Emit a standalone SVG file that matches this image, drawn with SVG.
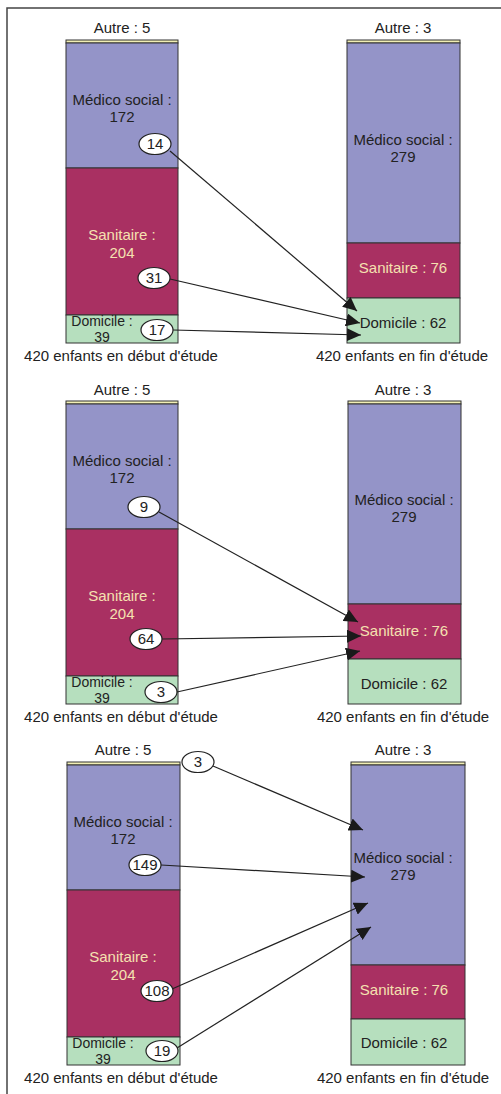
<svg xmlns="http://www.w3.org/2000/svg" width="501" height="1094" viewBox="0 0 501 1094">
<style>
text{font-family:"Liberation Sans",Arial,sans-serif;font-size:15px;fill:#222;text-anchor:middle}
.au{fill:#f1eeb4;stroke:#333;stroke-width:1}
.me{fill:#9494c8;stroke:#333;stroke-width:1}
.sa{fill:#a93062;stroke:#333;stroke-width:1}
.do{fill:#b6dfbe;stroke:#333;stroke-width:1}
.st{fill:#f5e1b0}
.dl{font-size:14px}
.el{fill:#fff;stroke:#222;stroke-width:1.2}
.ln{stroke:#222;stroke-width:1.2;fill:none;marker-end:url(#ah)}
.fr{stroke:#444;stroke-width:1.5;fill:none}
</style>
<defs>
<marker id="ah" markerUnits="userSpaceOnUse" markerWidth="15" markerHeight="13" refX="14" refY="6.5" orient="auto">
<path d="M0,0 L14,6.5 L0,13 z" fill="#1a1a1a"/>
</marker>
</defs>
<rect width="501" height="1094" fill="#fff"/>
<path class="fr" d="M7,1094 V8 H501"/>

<!-- Panel 1 -->
<g id="p1-left">
<text x="122" y="33">Autre : 5</text>
<rect class="au" x="66" y="40" width="112" height="3"/>
<rect class="me" x="66" y="43" width="112" height="125"/>
<rect class="sa" x="66" y="168" width="112" height="147"/>
<rect class="do" x="66" y="315" width="112" height="28"/>
<text x="122" y="105">Médico social :</text>
<text x="122" y="122">172</text>
<text class="st" x="122" y="240">Sanitaire :</text>
<text class="st" x="122" y="258">204</text>
<text class="dl" x="102" y="326">Domicile :</text>
<text class="dl" x="102" y="342">39</text>
<text x="121" y="361">420 enfants en début d'étude</text>
</g>
<g id="p1-right">
<text x="403" y="33">Autre : 3</text>
<rect class="au" x="347" y="40" width="113" height="3"/>
<rect class="me" x="347" y="43" width="113" height="200"/>
<rect class="sa" x="347" y="243" width="113" height="55"/>
<rect class="do" x="347" y="298" width="113" height="45"/>
<text x="403" y="145">Médico social :</text>
<text x="403" y="162">279</text>
<text class="st" x="403" y="273">Sanitaire : 76</text>
<text x="403" y="328">Domicile : 62</text>
<text x="402" y="361">420 enfants en fin d'étude</text>
</g>
<g id="p1-connectors">
<path class="ln" d="M170,151 L357,311"/>
<path class="ln" d="M170,279 L360,323"/>
<path class="ln" d="M173,330 L361,335"/>
</g>
<g id="p1-e14"><ellipse class="el" cx="155" cy="144" rx="16" ry="10.5"/><text x="155" y="149">14</text></g>
<g id="p1-e31"><ellipse class="el" cx="154" cy="278" rx="16" ry="10.5"/><text x="154" y="283">31</text></g>
<g id="p1-e17"><ellipse class="el" cx="157" cy="330" rx="16" ry="10.5"/><text x="157" y="335">17</text></g>

<!-- Panel 2 -->
<g id="p2-left">
<text x="122" y="395">Autre : 5</text>
<rect class="au" x="66" y="401" width="112" height="3"/>
<rect class="me" x="66" y="404" width="112" height="125"/>
<rect class="sa" x="66" y="529" width="112" height="147"/>
<rect class="do" x="66" y="676" width="112" height="28"/>
<text x="122" y="466">Médico social :</text>
<text x="122" y="483">172</text>
<text class="st" x="122" y="601">Sanitaire :</text>
<text class="st" x="122" y="619">204</text>
<text class="dl" x="102" y="687">Domicile :</text>
<text class="dl" x="102" y="703">39</text>
<text x="121" y="722">420 enfants en début d'étude</text>
</g>
<g id="p2-right">
<text x="403" y="395">Autre : 3</text>
<rect class="au" x="348" y="401" width="113" height="3"/>
<rect class="me" x="348" y="404" width="113" height="200"/>
<rect class="sa" x="348" y="604" width="113" height="55"/>
<rect class="do" x="348" y="659" width="113" height="45"/>
<text x="404" y="505">Médico social :</text>
<text x="404" y="522">279</text>
<text class="st" x="404" y="636">Sanitaire : 76</text>
<text x="404" y="689">Domicile : 62</text>
<text x="403" y="722">420 enfants en fin d'étude</text>
</g>
<g id="p2-connectors">
<path class="ln" d="M159,512 L358,622"/>
<path class="ln" d="M162,639 L361,636"/>
<path class="ln" d="M177,692 L360,651"/>
</g>
<g id="p2-e9"><ellipse class="el" cx="144" cy="507" rx="16" ry="10.5"/><text x="144" y="512">9</text></g>
<g id="p2-e64"><ellipse class="el" cx="146" cy="639" rx="16" ry="10.5"/><text x="146" y="644">64</text></g>
<g id="p2-e3"><ellipse class="el" cx="161" cy="692" rx="16" ry="10.5"/><text x="161" y="697">3</text></g>

<!-- Panel 3 -->
<g id="p3-left">
<text x="123" y="755">Autre : 5</text>
<rect class="au" x="67" y="762" width="113" height="3"/>
<rect class="me" x="67" y="765" width="113" height="125"/>
<rect class="sa" x="67" y="890" width="113" height="147"/>
<rect class="do" x="67" y="1037" width="113" height="28"/>
<text x="123" y="827">Médico social :</text>
<text x="123" y="844">172</text>
<text class="st" x="123" y="962">Sanitaire :</text>
<text class="st" x="123" y="980">204</text>
<text class="dl" x="103" y="1048">Domicile :</text>
<text class="dl" x="103" y="1064">39</text>
<text x="121" y="1083">420 enfants en début d'étude</text>
</g>
<g id="p3-right">
<text x="403" y="755">Autre : 3</text>
<rect class="au" x="351" y="762" width="114" height="3"/>
<rect class="me" x="351" y="765" width="114" height="200"/>
<rect class="sa" x="351" y="965" width="114" height="54"/>
<rect class="do" x="351" y="1019" width="114" height="46"/>
<text x="403" y="863">Médico social :</text>
<text x="403" y="880">279</text>
<text class="st" x="404" y="995">Sanitaire : 76</text>
<text x="404" y="1048">Domicile : 62</text>
<text x="403" y="1083">420 enfants en fin d'étude</text>
</g>
<g id="p3-connectors">
<path class="ln" d="M213,766 L363,830"/>
<path class="ln" d="M161,865 L365,877"/>
<path class="ln" d="M172,989 L368,903"/>
<path class="ln" d="M177,1048 L371,927"/>
</g>
<g id="p3-e3"><ellipse class="el" cx="198" cy="762" rx="16" ry="10.5"/><text x="198" y="767">3</text></g>
<g id="p3-e149"><ellipse class="el" cx="145" cy="865" rx="16" ry="10.5"/><text x="145" y="870">149</text></g>
<g id="p3-e108"><ellipse class="el" cx="157" cy="991" rx="16" ry="10.5"/><text x="157" y="996">108</text></g>
<g id="p3-e19"><ellipse class="el" cx="162" cy="1051" rx="16" ry="10.5"/><text x="162" y="1056">19</text></g>
</svg>
